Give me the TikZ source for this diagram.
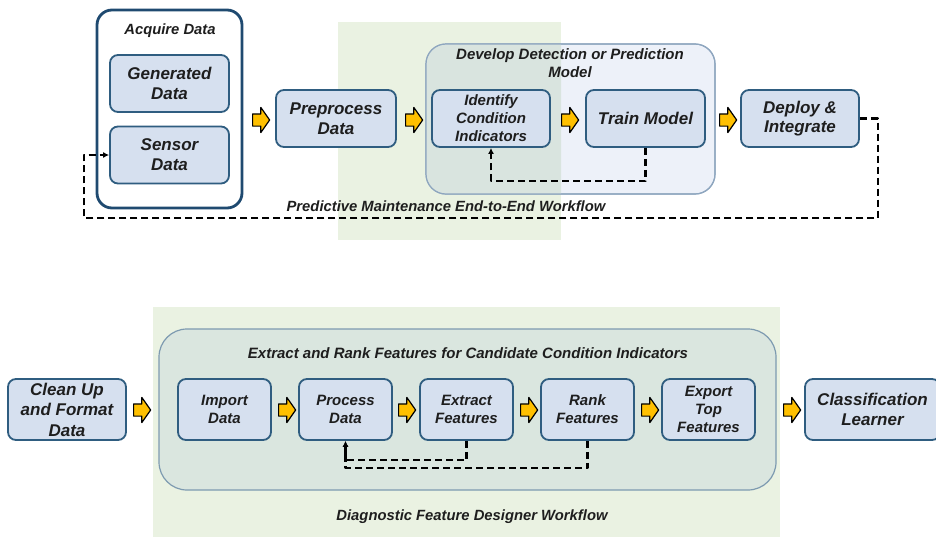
\documentclass[tikz,border=0pt]{standalone}
\usepackage{fontspec}
\setmainfont{Liberation Sans}
\usetikzlibrary{arrows.meta,shapes.arrows}
\definecolor{boxfill}{HTML}{D6E0EF}
\definecolor{boxline}{HTML}{2F5D80}
\definecolor{acqline}{HTML}{1F4A70}
\definecolor{devfill}{HTML}{EDF1F9}
\definecolor{devline}{HTML}{8EA6BF}
\definecolor{overlapgreen}{HTML}{D9E4DF}
\definecolor{bandgreen}{HTML}{EAF2E2}
\definecolor{extfill}{HTML}{DAE6DF}
\definecolor{extline}{HTML}{7D9AB0}
\definecolor{arrowyellow}{HTML}{FFC000}
\definecolor{txtgray}{HTML}{1E1E1E}

\begin{document}
\begin{tikzpicture}[
  x=1pt,
  y=-1pt,
  line join=round,
  every node/.style={text=txtgray,align=center,inner sep=0pt},
  bigtext/.style={font=\fontsize{17}{20}\selectfont\bfseries\itshape},
  smalltext/.style={font=\fontsize{15}{18}\selectfont\bfseries\itshape},
  labeltext/.style={font=\fontsize{14.8}{17}\selectfont\bfseries\itshape},
  stepbox/.style={draw=boxline,fill=boxfill,line width=1.8pt,rounded corners=8pt},
  topbox/.style={stepbox,bigtext,minimum width=119pt,minimum height=57pt},
  lowbox/.style={stepbox,smalltext,minimum width=93pt,minimum height=61pt},
  yarrow/.style={single arrow,draw=black,fill=arrowyellow,line width=1.2pt,
    minimum height=17pt,minimum width=24pt,single arrow head extend=6.5pt,
    single arrow tip angle=110},
  feedback/.style={draw=black,line width=2.2pt,dash pattern=on 7pt off 4pt,
    -{Latex[length=6pt,width=6pt]}}
]
  \useasboundingbox (0,0) rectangle (936,536);
  \clip (0,0) rectangle (936,536);

  % Green backgrounds of the two highlighted regions.
  \fill[bandgreen] (338,22) rectangle (561,240);
  \fill[bandgreen] (153,307) rectangle (780,540);

  % ---------------- Predictive maintenance workflow ----------------
  \node[draw=acqline,fill=white,line width=2.8pt,rounded corners=15pt,outer sep=0pt,
    minimum width=145pt,minimum height=198pt] (acq) at (169.5,109) {};
  \node[labeltext] (acqlabel) at (170,31) {Acquire Data};
  \node[topbox] (gen) at (169.5,83.5) {Generated\\Data};
  \node[topbox] (sen) at (169.5,155) {Sensor\\Data};
  \node[topbox,minimum width=120pt] (pre) at (336,118.5) {Preprocess\\Data};

  % Model development container, darker where it meets the green band.
  \node[fill=devfill,draw=devline,line width=1.2pt,rounded corners=20pt,outer sep=0pt,
    minimum width=289pt,minimum height=150pt] (dev) at (570.5,119) {};
  \begin{scope}
    \clip (338,22) rectangle (561,240);
    \fill[overlapgreen,rounded corners=20pt] (dev.north west) rectangle (dev.south east);
  \end{scope}
  \draw[devline,line width=1.2pt,rounded corners=20pt] (dev.north west) rectangle (dev.south east);
  \node[smalltext] (devlabel) at (570,63) {Develop Detection or Prediction\\Model};
  \node[topbox,smalltext,minimum width=118pt] (ident) at (491,118.5) {Identify\\Condition\\Indicators};
  \node[topbox] (train) at (645.5,118.5) {Train Model};
  \node[topbox,font=\fontsize{17}{19}\selectfont\bfseries\itshape,minimum width=118pt] (deploy) at (800,118.5) {Deploy \&\\Integrate};
  \node[labeltext] (toplabel) at (446,206) {Predictive Maintenance End-to-End Workflow};

  \foreach \n/\x in {ta/259,tb/412,tc/568,td/726} {
    \node[yarrow] (\n) at (\x,120) {\rule{0pt}{11pt}};
  }

  \draw[feedback] (train.south) -- ++(0,33) -| (ident.south);
  \coordinate (loopcorner) at (84,218);
  \draw[feedback] (deploy.east) -- ++(18,0) |- (loopcorner) |- (sen.west);

  % ---------------- Diagnostic feature designer workflow ----------------
  \node[fill=extfill,draw=extline,line width=1.2pt,rounded corners=28pt,outer sep=0pt,
    minimum width=617pt,minimum height=161pt] (ext) at (467.5,409.5) {};
  \node[smalltext] (extlabel) at (468,353) {Extract and Rank Features for Candidate Condition Indicators};
  \node[topbox,font=\fontsize{17}{20.5}\selectfont\bfseries\itshape,minimum height=61pt,minimum width=118pt] (clean) at (67,409.5) {Clean Up\\and Format\\Data};
  \node[lowbox] (import) at (224.5,409.5) {Import\\Data};
  \node[lowbox] (process) at (345.5,409.5) {Process\\Data};
  \node[lowbox] (extract) at (466.5,409.5) {Extract\\Features};
  \node[lowbox] (rank) at (587.5,409.5) {Rank\\Features};
  \node[lowbox] (export) at (708.5,409.5) {Export\\Top\\Features};
  \node[topbox,minimum height=61pt,minimum width=135pt] (classif) at (872.5,409.5) {Classification\\Learner};
  \node[labeltext] (lowlabel) at (472,517) {Diagnostic Feature Designer Workflow};

  \foreach \n/\x in {ba/140,bb/285,bc/405,bd/527,be/648,bf/790} {
    \node[yarrow] (\n) at (\x,410) {\rule{0pt}{11pt}};
  }

  \draw[feedback] (rank.south) -- ++(0,27) -| (process.south);
  \draw[feedback] (extract.south) -- ++(0,19) -| (process.south);
\end{tikzpicture}
\end{document}
